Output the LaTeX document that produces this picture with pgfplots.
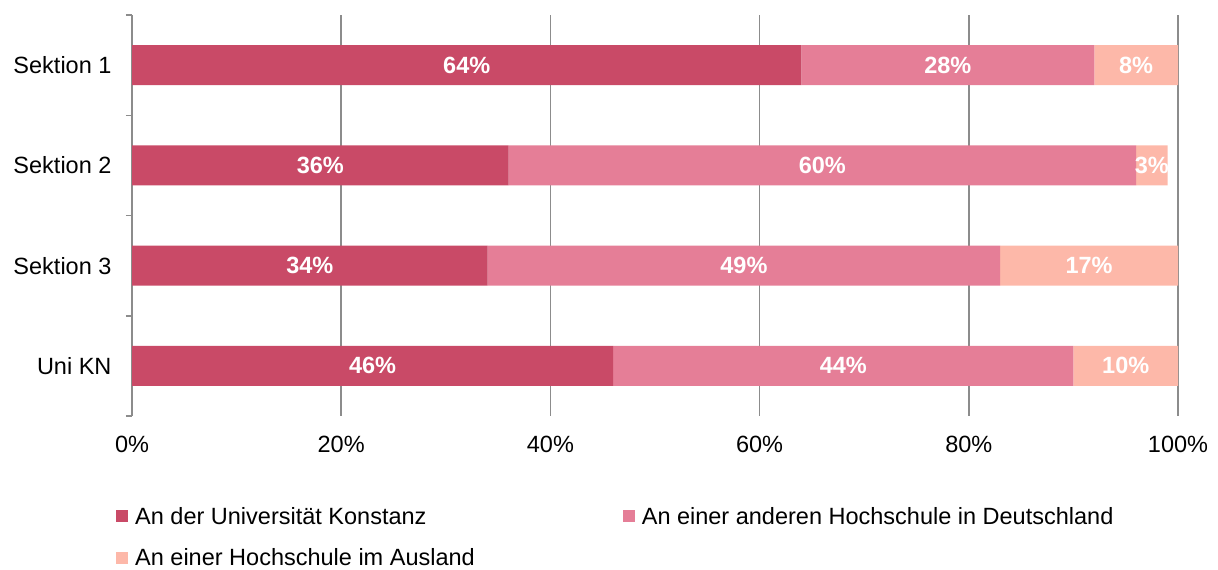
\documentclass[border=0pt]{standalone}
\usepackage{pgfplots}
\usepackage{pgfplotstable}
\usepackage{fontspec}
\setmainfont{Liberation Sans}
\pgfplotsset{compat=1.18}
\definecolor{cA}{HTML}{C94A67}
\definecolor{cB}{HTML}{E57E97}
\definecolor{cC}{HTML}{FDB8A9}
\definecolor{gridc}{HTML}{8C8C8C}
\pgfplotstableread{
c a b d
0 64 28 8
1 36 60 3
2 34 49 17
3 46 44 10
}\data
\pgfplotsset{
  lbl/.style={every node near coord/.style={font=\fontsize{23.5}{28}\selectfont\bfseries,
    text=white, anchor=center}},
}
\begin{document}
\begin{tikzpicture}[font=\fontsize{23.5}{28}\selectfont]
\useasboundingbox (0,0) rectangle (1218pt,570pt);
\begin{axis}[
  at={(132pt,154pt)}, anchor=south west,
  scale only axis, width=1046pt, height=401pt,
  xbar stacked, bar width=40pt,
  xmin=0, xmax=100, ymin=-0.5, ymax=3.5,
  y dir=reverse,
  /pgf/number format/assume math mode=true,
  xtick={0,20,40,60,80,100},
  xticklabels={0\%,20\%,40\%,60\%,80\%,100\%},
  ytick={0,1,2,3},
  yticklabels={Sektion 1,Sektion 2,Sektion 3,Uni KN},
  minor ytick={-0.5,0.5,1.5,2.5,3.5},
  major tick length=0pt, minor tick length=6pt,
  tick align=outside,
  tick style={gridc, line width=1.5pt},
  xmajorgrids, grid style={gridc, line width=1.5pt},
  separate axis lines,
  axis x line*=bottom, axis y line*=left,
  x axis line style={draw=none},
  y axis line style={gridc, line width=1.5pt},
  xticklabel style={yshift=-17pt},
  yticklabel style={xshift=-17pt},
  clip=false,
  nodes near coords={\pgfmathprintnumber{\pgfplotspointmeta}\%},
  legend columns=2,
  legend cell align=left,
  legend style={draw=none, fill=none, at={(0,0)}, anchor=north west,
    xshift=-19pt, yshift=-87pt,
    /tikz/every even column/.append style={column sep=146pt},
    row sep=19pt},
  legend image code/.code={\fill[#1] (0pt,-6pt) rectangle (12pt,6pt); \path (17pt,0pt);},
]
\addplot[fill=cA, draw=none, lbl] table[x=a, y=c, meta=a]{\data};
\addplot[fill=cB, draw=none, lbl] table[x=b, y=c, meta=b]{\data};
\addplot[fill=cC, draw=none, lbl] table[x=d, y=c, meta=d]{\data};
\legend{An der Universität Konstanz, An einer anderen Hochschule in Deutschland, An einer Hochschule im Ausland}
\end{axis}
\end{tikzpicture}
\end{document}
